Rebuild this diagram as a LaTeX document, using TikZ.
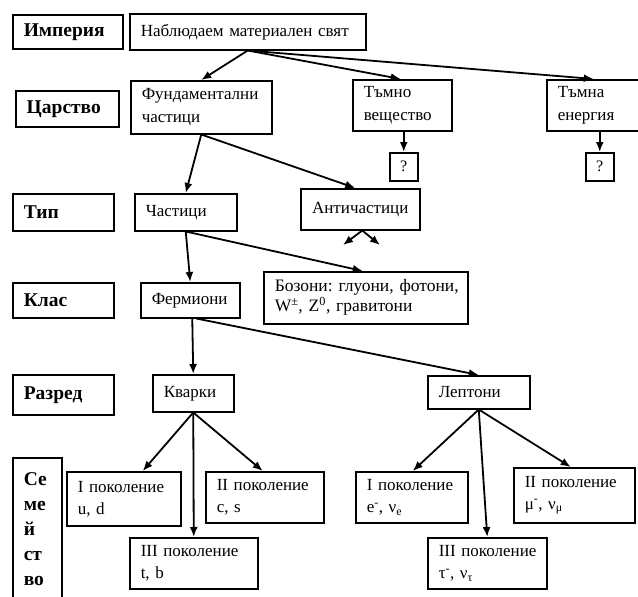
\documentclass[tikz,border=0pt]{standalone}
\usepackage{fontspec}
\setmainfont{Liberation Serif}
\usetikzlibrary{arrows.meta}
\frenchspacing
\begin{document}
\begin{tikzpicture}[x=1pt,y=-1pt,
  box/.style={draw, line width=1.5pt, anchor=north west, align=left, inner xsep=11pt, inner ysep=0pt, font=\fontsize{17}{23}\selectfont},
  lbl/.style={box, font=\fontsize{19.5}{25}\bfseries\selectfont},
  qbox/.style={draw, line width=1.5pt, anchor=north west, minimum width=28pt, minimum height=28pt, inner sep=0pt, font=\fontsize{16}{18}\selectfont},
  arr/.style={line width=1.8pt, -{Latex[length=10pt,width=8pt]}},
]
\useasboundingbox (0,0) rectangle (638,597);
% level labels
\node[lbl, text width=88pt, minimum height=34pt] (L1) at (12,14) {Империя};
\node[lbl, text width=81pt, minimum height=36pt] (L2) at (15,90) {Царство};
\node[lbl, text width=79pt, minimum height=37pt] (L3) at (12,193) {Тип};
\node[lbl, text width=79pt, minimum height=35pt] (L4) at (12,282) {Клас};
\node[lbl, text width=79pt, minimum height=40pt] (L5) at (12,374) {Разред};
\node[lbl, text width=27pt, minimum height=142pt] (L6) at (12,457) {Се\\ме\\й\\ст\\во};
% boxes
\node[box, text width=214pt, minimum height=36pt] (imp) at (129,13) {\mbox{Наблюдаем материален свят}};
\node[box, text width=119pt, minimum height=53pt] (fund) at (130,80) {Фундаментални\\частици};
\node[box, text width=77pt, minimum height=51pt] (dm) at (352,79) {Тъмно\\вещество};
\node[qbox] (q1) at (389,152) {?};
\node[box, text width=70pt, minimum height=51pt] (de) at (546,79) {Тъмна\\енергия};
\node[qbox] (q2) at (585,152) {?};
\node[box, text width=80pt, minimum height=37pt] (part) at (134,193) {Частици};
\node[box, align=center, text width=97pt, minimum height=41pt] (anti) at (300,188) {Античастици};
\node[box, text width=77pt, minimum height=35pt] (ferm) at (140,282) {Фермиони};
\node[box, text width=182pt, minimum height=52pt, font=\fontsize{17.5}{20}\selectfont] (boz) at (263,271) {\mbox{Бозони: глуони, фотони,}\\\mbox{W\textsuperscript{±}, Z\textsuperscript{0}, гравитони}};
\node[box, text width=59pt, minimum height=37pt] (quark) at (152,374) {Кварки};
\node[box, text width=80pt, minimum height=33pt] (lept) at (427,375) {Лептони};
\node[box, text width=92pt, minimum height=54pt, font=\fontsize{17}{22}\selectfont] (g1q) at (66,471) {\mbox{I поколение}\\u, d};
\node[box, text width=96pt, minimum height=51pt, font=\fontsize{17}{22}\selectfont] (g2q) at (205,471) {\mbox{II поколение}\\c, s};
\node[box, text width=106pt, minimum height=51pt, font=\fontsize{17}{22}\selectfont] (g3q) at (129,537) {\mbox{III поколение}\\t, b};
\node[box, text width=90pt, minimum height=51pt, font=\fontsize{17}{22}\selectfont] (g1l) at (355,471) {\mbox{I поколение}\\\mbox{e\textsuperscript{-}, ν\textsubscript{e}}};
\node[box, text width=99pt, minimum height=55pt, font=\fontsize{17}{22}\selectfont] (g2l) at (513,467) {\mbox{II поколение}\\\mbox{μ\textsuperscript{-}, ν\textsubscript{μ}}};
\node[box, text width=97pt, minimum height=51pt, font=\fontsize{17}{22}\selectfont] (g3l) at (427,537) {\mbox{III поколение}\\\mbox{τ\textsuperscript{-}, ν\textsubscript{τ}}};
\coordinate (a1) at (343,245);
\coordinate (a2) at (380,245);
% connectors
\draw[arr] (imp.south) -- (fund.north);
\draw[arr] (imp.south) -- ([xshift=-1.5pt]dm.north);
\draw[arr] (imp.south) -- ([xshift=1pt]de.north);
\draw[arr] (dm.south -| q1.north) -- (q1.north);
\draw[arr] (de.south -| q2.north) -- (q2.north);
\draw[arr] (fund.south) -- (part.north);
\draw[arr] (fund.south) -- ([xshift=-5pt]anti.north);
\draw[arr] ([xshift=2pt]anti.south) -- (a1);
\draw[arr] ([xshift=2pt]anti.south) -- (a2);
\draw[arr] (part.south) -- (ferm.north);
\draw[arr] (part.south) -- ([xshift=-3pt]boz.north);
\draw[arr] ([xshift=2pt]ferm.south) -- (quark.north);
\draw[arr] ([xshift=6pt]ferm.south) -- (lept.north);
\draw[arr] (quark.south) -- ([xshift=19pt]g1q.north);
\draw[arr] (quark.south) -- (g3q.north);
\draw[arr] (quark.south) -- ([xshift=-2pt]g2q.north);
\draw[arr] (lept.south) -- ([xshift=1pt]g1l.north);
\draw[arr] (lept.south) -- (g3l.north);
\draw[arr] (lept.south) -- ([xshift=-3.5pt]g2l.north);
\end{tikzpicture}
\end{document}
